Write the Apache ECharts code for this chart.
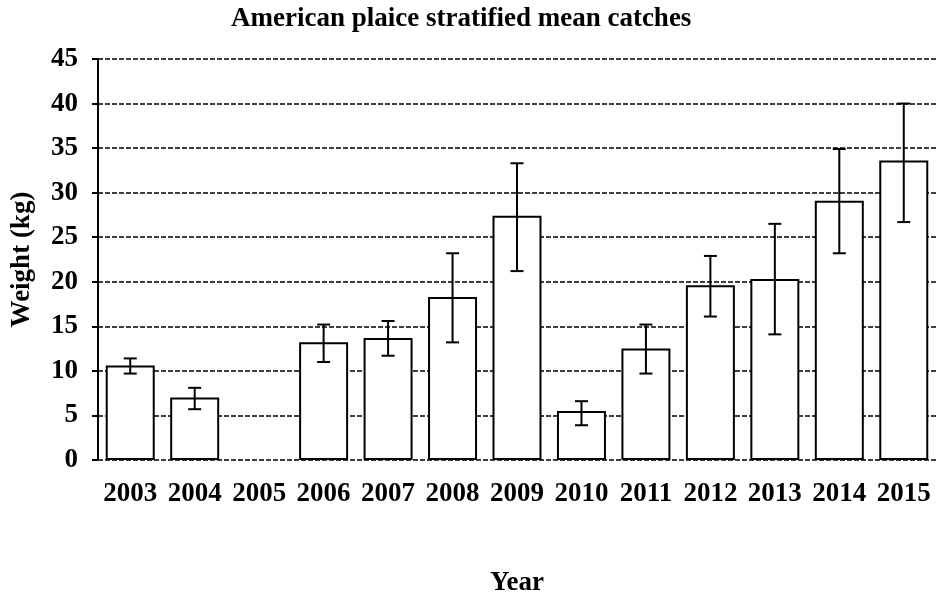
<!DOCTYPE html>
<html>
<head>
<meta charset="utf-8">
<script src="https://cdn.jsdelivr.net/npm/echarts@6/dist/echarts.min.js"></script>
<style>html,body{margin:0;padding:0;background:#fff}#c{width:938px;height:598px}</style>
</head>
<body>
<div id="c"></div>
<script>
const years = ['2003','2004','2005','2006','2007','2008','2009','2010','2011','2012','2013','2014','2015'];
const meanWeight = [10.6, 7.0, null, 13.2, 13.7, 18.3, 27.4, 5.5, 12.5, 19.6, 20.3, 29.1, 33.6];
const errLow = [9.7, 5.7, null, 11.0, 11.7, 13.2, 21.2, 3.9, 9.7, 16.1, 14.1, 23.2, 26.7];
const errHigh = [11.4, 8.1, null, 15.2, 15.6, 23.2, 33.3, 6.6, 15.2, 22.9, 26.5, 34.9, 40.0];
const yTicks = [0, 5, 10, 15, 20, 25, 30, 35, 40, 45];

const FONT = "'Liberation Serif', 'Times New Roman', serif";
const chart = echarts.init(document.getElementById('c'), null, {renderer: 'canvas'});
const errData = years.map((y, i) => errLow[i] == null ? [i, '-', '-'] : [i, errLow[i], errHigh[i]]);

chart.setOption({
  animation: false,
  backgroundColor: '#fff',
  title: {
    text: 'American plaice stratified mean catches',
    left: 226, top: 1,
    textStyle: {fontFamily: FONT, fontWeight: 'bold', fontSize: 27, color: '#000'}
  },
  grid: {left: 98, right: 2, top: 59, bottom: 138, containLabel: false, outerBoundsMode: 'none'},
  xAxis: {
    type: 'category',
    data: years,
    name: 'Year',
    nameLocation: 'middle',
    nameGap: 110,
    nameTextStyle: {fontFamily: FONT, fontWeight: 'bold', fontSize: 27, color: '#000'},
    axisLine: {show: false},
    axisTick: {show: false},
    axisLabel: {fontFamily: FONT, fontWeight: 'bold', fontSize: 27, color: '#000', margin: 21, interval: 0},
    splitLine: {show: false}
  },
  yAxis: {
    type: 'value',
    min: 0, max: 45, interval: 5,
    name: 'Weight (kg)',
    nameLocation: 'middle',
    nameGap: 62,
    nameRotate: 90,
    nameTextStyle: {fontFamily: FONT, fontWeight: 'bold', fontSize: 27, color: '#000'},
    axisLine: {show: true, lineStyle: {color: '#000', width: 2}},
    axisTick: {show: true, inside: false, length: 6, lineStyle: {color: '#000', width: 2}},
    axisLabel: {
      fontFamily: FONT, fontWeight: 'bold', fontSize: 27, color: '#000', margin: 20,
      formatter: v => yTicks.includes(v) ? String(v) : ''
    },
    splitLine: {show: true, lineStyle: {color: '#000', width: 1.5, type: [5, 2]}}
  },
  series: [
    {
      type: 'bar',
      data: meanWeight,
      barWidth: '76%',
      itemStyle: {color: '#fff', borderColor: '#000', borderWidth: 2},
      z: 3
    },
    {
      type: 'custom',
      data: errData,
      z: 4,
      renderItem: function (params, api) {
        const lo = api.value(1), hi = api.value(2);
        if (lo === '-' || isNaN(lo)) return null;
        const x = api.value(0);
        const pLo = api.coord([x, lo]);
        const pHi = api.coord([x, hi]);
        const hw = 6.5;
        const st = {stroke: '#000', lineWidth: 2};
        return {
          type: 'group',
          children: [
            {type: 'line', shape: {x1: pLo[0], y1: pLo[1], x2: pHi[0], y2: pHi[1]}, style: st},
            {type: 'line', shape: {x1: pLo[0] - hw, y1: pLo[1], x2: pLo[0] + hw, y2: pLo[1]}, style: st},
            {type: 'line', shape: {x1: pHi[0] - hw, y1: pHi[1], x2: pHi[0] + hw, y2: pHi[1]}, style: st}
          ]
        };
      }
    }
  ]
});
</script>
</body>
</html>
